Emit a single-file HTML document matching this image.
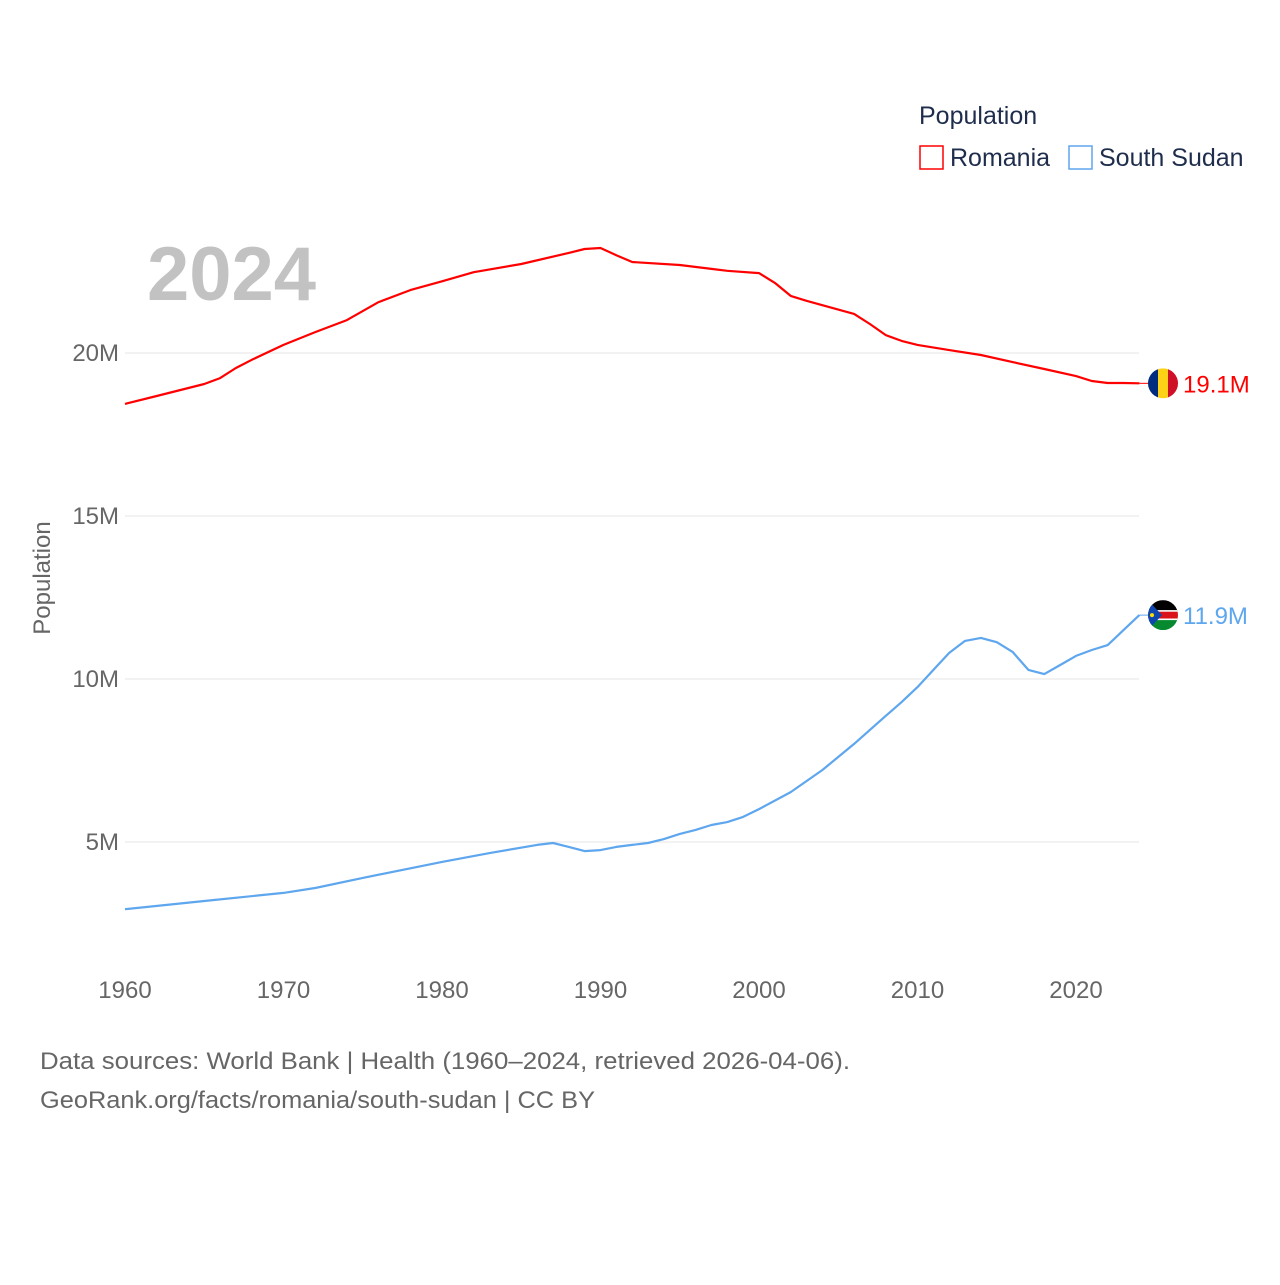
<!DOCTYPE html>
<html><head><meta charset="utf-8">
<style>
body{margin:0;background:#fff;font-family:"Liberation Sans",sans-serif;}
svg text{font-family:"Liberation Sans",sans-serif;}
</style></head>
<body>
<svg id="chart" width="1280" height="1280" xmlns="http://www.w3.org/2000/svg">
<rect width="1280" height="1280" fill="#fff"/>
<g id="grid"></g>
<g id="xticks"></g>
<text x="147" y="300" font-size="76" font-weight="bold" fill="#c2c2c2">2024</text>
<text transform="translate(50,578) rotate(-90)" text-anchor="middle" font-size="24" fill="#666">Population</text>
<text x="919" y="124" font-size="25" fill="#1f2d4d">Population</text>
<g>
<rect x="920" y="146" width="23" height="23" fill="none" stroke="#f00" stroke-width="1.5"/>
<text x="950" y="166" font-size="25" fill="#1f2d4d">Romania</text></g>
<g>
<rect x="1069" y="146" width="23" height="23" fill="none" stroke="#5ea6ee" stroke-width="1.5"/>
<text x="1099" y="166" font-size="25" fill="#1f2d4d">South Sudan</text></g>
<g id="series"></g>
<text x="40" y="1069" font-size="24" fill="#666" textLength="810" lengthAdjust="spacingAndGlyphs">Data sources: World Bank | Health (1960–2024, retrieved 2026-04-06).</text>
<text x="40" y="1108" font-size="24" fill="#666" textLength="555" lengthAdjust="spacingAndGlyphs">GeoRank.org/facts/romania/south-sudan | CC BY</text>
</svg>
<script>
const yTicks=[5,10,15,20];
const yTickLabels=["5M","10M","15M","20M"];
const xTicks=[1960,1970,1980,1990,2000,2010,2020];
const roYears=[1960,1962,1965,1966,1967,1968,1970,1972,1974,1976,1978,1980,1982,1985,1988,1989,1990,1991,1992,1995,1997,1998,2000,2001,2002,2003,2006,2007,2008,2009,2010,2012,2014,2016,2018,2020,2021,2022,2023,2024];
const roValues=[18.44,18.68,19.05,19.23,19.54,19.79,20.25,20.64,21.01,21.56,21.93,22.2,22.48,22.73,23.07,23.19,23.22,23.0,22.79,22.7,22.58,22.52,22.45,22.15,21.75,21.6,21.2,20.89,20.55,20.37,20.25,20.09,19.94,19.72,19.51,19.29,19.14,19.08,19.08,19.07];
const ssYears=[1960,1965,1970,1972,1975,1980,1983,1986,1987,1988,1989,1990,1991,1992,1993,1994,1995,1996,1997,1998,1999,2000,2002,2004,2006,2008,2009,2010,2011,2012,2013,2014,2015,2016,2017,2018,2019,2020,2021,2022,2023,2024];
const ssValues=[2.94,3.19,3.44,3.59,3.9,4.39,4.66,4.91,4.97,4.85,4.72,4.75,4.85,4.91,4.97,5.09,5.25,5.37,5.52,5.61,5.77,6.01,6.53,7.21,8.01,8.87,9.29,9.75,10.28,10.8,11.17,11.26,11.13,10.83,10.28,10.15,10.43,10.71,10.89,11.04,11.5,11.96];
const NS="http://www.w3.org/2000/svg";
const X=y=>125+(y-1960)*15.85;
const Y=v=>1005-v*32.6;
function mk(tag,attrs,parent){const e=document.createElementNS(NS,tag);for(const k in attrs)e.setAttribute(k,attrs[k]);parent.appendChild(e);return e;}
const grid=document.getElementById('grid');
yTicks.forEach((t,i)=>{
 const l=mk('line',{x1:125,x2:1139,y1:Y(t),y2:Y(t),stroke:'#e6e6e6','stroke-width':1},grid);
 
 
 const tx=mk('text',{x:119,y:Y(t)+8,'text-anchor':'end','font-size':24,fill:'#666'},grid);
 tx.textContent=yTickLabels[i];
 
 
});
const xt=document.getElementById('xticks');
xTicks.forEach(t=>{
 const tx=mk('text',{x:X(t),y:998,'text-anchor':'middle','font-size':24,fill:'#666'},xt);
 tx.textContent=t;
 
 
});
const sg=document.getElementById('series');
function line(yrs,vals,color,name,label){
 const d=yrs.map((y,i)=>(i?'L':'M')+X(y).toFixed(1)+','+Y(vals[i]).toFixed(1)).join(' ');
 const p=mk('path',{d:d,fill:'none',stroke:color,'stroke-width':2.2,'stroke-linejoin':'round'},sg);
 
 
 const ly=Y(vals[vals.length-1]), lx=X(yrs[yrs.length-1]);
 mk('line',{x1:lx,x2:lx+12,y1:ly,y2:ly,stroke:color,'stroke-width':1},sg);
 const t=mk('text',{x:1183,y:ly+9,'font-size':24,fill:color},sg);
 t.textContent=label;
 
 
 return ly;
}
const ry=line(roYears,roValues,'#ff0000','romania','19.1M');
const sy=line(ssYears,ssValues,'#5ea6ee','south-sudan','11.9M');
const rf=mk('g',{},sg);


const cp1=mk('clipPath',{id:'c1'},rf);mk('circle',{cx:1163,cy:ry,r:15},cp1);
const rg=mk('g',{'clip-path':'url(#c1)'},rf);
mk('rect',{x:1148,y:ry-15,width:10,height:30,fill:'#002b7f'},rg);
mk('rect',{x:1158,y:ry-15,width:10,height:30,fill:'#fcd116'},rg);
mk('rect',{x:1168,y:ry-15,width:10,height:30,fill:'#ce1126'},rg);
const sf=mk('g',{},sg);


const cp=mk('clipPath',{id:'c2'},sf);mk('circle',{cx:1163,cy:sy,r:15},cp);
const gg=mk('g',{'clip-path':'url(#c2)'},sf);
mk('rect',{x:1148,y:sy-15,width:30,height:11,fill:'#000'},gg);
mk('rect',{x:1148,y:sy-4,width:30,height:8,fill:'#da121a'},gg);
mk('rect',{x:1148,y:sy+4,width:30,height:11,fill:'#078930'},gg);
mk('rect',{x:1148,y:sy-5,width:30,height:1.6,fill:'#fff'},gg);
mk('rect',{x:1148,y:sy+3.4,width:30,height:1.6,fill:'#fff'},gg);
mk('polygon',{points:`1148,${sy-15} 1162,${sy} 1148,${sy+15}`,fill:'#0f47af'},gg);
mk('circle',{cx:1152,cy:sy,r:2,fill:'#fcdd09'},gg);
</script>
</body></html>
